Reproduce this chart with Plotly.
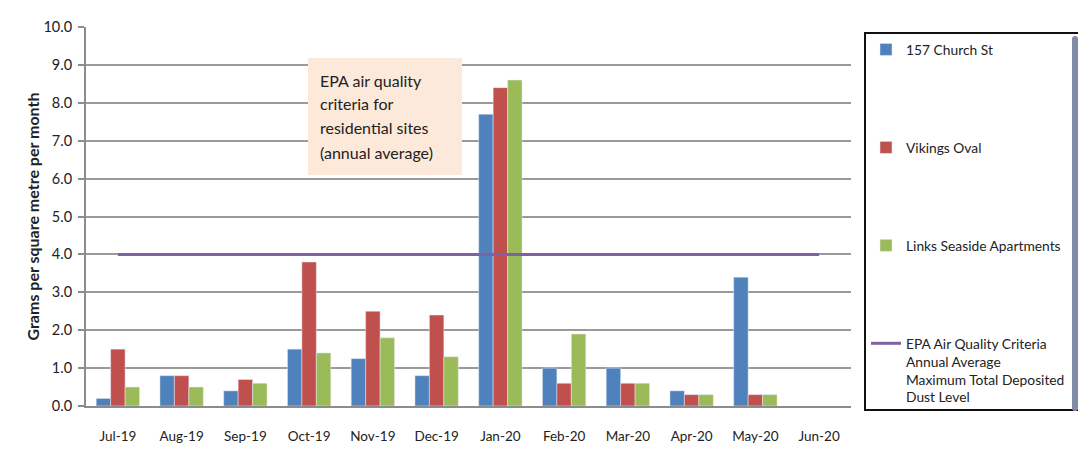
import plotly.graph_objects as go

months = ["Jul-19", "Aug-19", "Sep-19", "Oct-19", "Nov-19", "Dec-19",
          "Jan-20", "Feb-20", "Mar-20", "Apr-20", "May-20", "Jun-20"]
church_st = [0.2, 0.8, 0.4, 1.5, 1.25, 0.8, 7.7, 1.0, 1.0, 0.4, 3.4, None]
vikings_oval = [1.5, 0.8, 0.7, 3.8, 2.5, 2.4, 8.4, 0.6, 0.6, 0.3, 0.3, None]
links_seaside = [0.5, 0.5, 0.6, 1.4, 1.8, 1.3, 8.6, 1.9, 0.6, 0.3, 0.3, None]
epa_criteria = [4.0] * 12

y_ticks = [0, 1, 2, 3, 4, 5, 6, 7, 8, 9, 10]
note_lines = ["EPA air quality", "criteria for", "residential sites", "(annual average)"]
note_y = [8.6, 7.99, 7.36, 6.70]

FONT = "Lato"
fig = go.Figure()
fig.add_trace(go.Bar(x=months, y=church_st, name="157 Church St",
                     marker_color="#4F81BD", legendgroup="a"))
fig.add_trace(go.Bar(x=months, y=vikings_oval, name="Vikings Oval",
                     marker_color="#C0504D", legendgroup="b"))
fig.add_trace(go.Bar(x=months, y=links_seaside, name="Links Seaside Apartments",
                     marker_color="#9BBB59", legendgroup="c"))
fig.add_trace(go.Scatter(x=months, y=epa_criteria, mode="lines",
                         name="EPA Air Quality Criteria<br>Annual Average<br>Maximum Total Deposited<br>Dust Level",
                         line=dict(color="#7F63A1", width=3), legendgroup="d"))

# page pixel layout (the page body adds an 8px offset)
OFF = 8
PL, PR, PT, PB = 86, 851, 27, 406
W, H = 1086 - OFF, 449 - OFF
L, R, T, B = PL - OFF, PR - OFF, PT - OFF, PB - OFF

def px(xp):
    return (xp - PL) / (PR - PL)

def py(yp):
    return (PB - yp) / (PB - PT)

unit = (PB - PT) / 10.0

fig.update_layout(
    width=W, height=H,
    margin=dict(l=L, r=W - R, t=T, b=H - B, pad=0, autoexpand=False),
    paper_bgcolor="white", plot_bgcolor="white",
    font=dict(family=FONT, size=13, color="#222222"),
    barmode="group", bargap=0.32, bargroupgap=0,
    showlegend=True,
    legend=dict(
        x=px(864), y=py(32), xanchor="left", yanchor="top",
        bgcolor="white", bordercolor="#111111", borderwidth=2,
        traceorder="grouped", tracegroupgap=77, valign="top",
        font=dict(family=FONT, size=13.8, color="#222222"),
        itemwidth=30,
    ),
)
fig.update_xaxes(
    type="category", showgrid=False, showline=True, linecolor="#8c8c8c", linewidth=2,
    ticks="", ticklabelstandoff=17, automargin=False,
    tickfont=dict(family=FONT, size=13.5, color="#222222"),
)
fig.update_yaxes(
    range=[0, 10], tickvals=y_ticks, tickformat=".1f", automargin=False,
    showgrid=True, gridcolor="#9a9a9a", gridwidth=2,
    showline=True, linecolor="#8c8c8c", linewidth=2,
    ticks="outside", ticklen=6, tickcolor="#8c8c8c", tickwidth=2,
    ticklabelstandoff=3, tickfont=dict(family=FONT, size=14.5, color="#222222"),
    title=dict(text="<b>Grams per square metre per month</b>", standoff=0,
               font=dict(family=FONT, size=16, color="#222222")),
    zeroline=False,
)

fig.add_shape(type="rect", xref="paper", yref="y", x0=px(308), x1=px(462),
              y0=(PB - 175) / unit, y1=(PB - 58) / unit,
              fillcolor="#FDE9D9", line=dict(width=0), layer="above")
for line, yv in zip(note_lines, note_y):
    fig.add_annotation(x=px(318), y=yv, xref="paper", yref="y", text=line,
                       showarrow=False, xanchor="left", yanchor="middle",
                       font=dict(family=FONT, size=16, color="#222222"))

fig.write_html("out.html")
